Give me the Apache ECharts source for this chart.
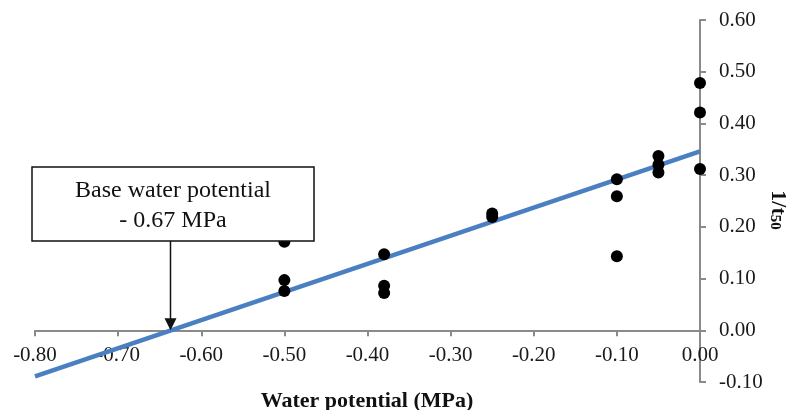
<!DOCTYPE html>
<html>
<head>
<meta charset="utf-8">
<script src="https://cdn.jsdelivr.net/npm/echarts@6/dist/echarts.min.js"></script>
<style>
  html, body { margin: 0; padding: 0; background: #fff; }
  #main { width: 793px; height: 410px; }
</style>
</head>
<body>
<div id="main"></div>
<script>
// observed points: water potential (MPa) and germination rate 1/t50
var waterPotential = [-0.50, -0.50, -0.50, -0.38, -0.38, -0.38, -0.25, -0.25,
                      -0.10, -0.10, -0.10, -0.05, -0.05, -0.05, 0.00, 0.00, 0.00];
var rate = [0.171, 0.097, 0.076, 0.147, 0.086, 0.072, 0.226, 0.219,
            0.292, 0.259, 0.143, 0.337, 0.320, 0.305, 0.478, 0.421, 0.312];

// fitted line end points
var fitX = [-0.80, 0.00];
var fitY = [-0.089, 0.346];
var xIntercept = -0.637;

var xTicks = { min: -0.8, max: 0, step: 0.1 };
var yTicks = { min: -0.1, max: 0.6, step: 0.1 };

var annotationLines = ['Base water potential', '- 0.67 MPa'];
var xTitle = 'Water potential (MPa)';

document.addEventListener('DOMContentLoaded', function() {
    var chartDom = document.getElementById('main');
    var myChart = echarts.init(chartDom, null, { renderer: 'canvas' });
    var serif = '"Liberation Serif", "Times New Roman", serif';
    var axisGray = '#8a8a8a';

    var grid = { left: 35, right: 93, top: 20, bottom: 28 };
    var gridH = 410 - grid.top - grid.bottom;
    // x axis sits on y = 0, so lift it off the grid bottom
    var xOffset = -(0 - yTicks.min) / (yTicks.max - yTicks.min) * gridH;

    var points = waterPotential.map(function(x, i) { return [x, rate[i]]; });
    var fit = fitX.map(function(x, i) { return [x, fitY[i]]; });

    var option = {
        animation: false,
        backgroundColor: '#fff',
        grid: grid,
        xAxis: {
            type: 'value',
            position: 'bottom',
            offset: xOffset,
            min: xTicks.min,
            max: xTicks.max,
            interval: xTicks.step,
            axisLine: { onZero: false, lineStyle: { color: axisGray, width: 2 } },
            axisTick: { show: true, length: 6, lineStyle: { color: axisGray, width: 2 } },
            axisLabel: {
                margin: 15,
                fontFamily: serif,
                fontSize: 21,
                color: '#1a1a1a',
                showMinLabel: true,
                showMaxLabel: true,
                formatter: function(v) { return v.toFixed(2); }
            },
            splitLine: { show: false }
        },
        yAxis: {
            type: 'value',
            position: 'right',
            min: yTicks.min,
            max: yTicks.max,
            interval: yTicks.step,
            axisLine: { show: true, onZero: false, lineStyle: { color: axisGray, width: 2 } },
            axisTick: { show: true, length: 6, lineStyle: { color: axisGray, width: 2 } },
            axisLabel: {
                margin: 19,
                fontFamily: serif,
                fontSize: 21,
                color: '#1a1a1a',
                showMinLabel: true,
                showMaxLabel: true,
                formatter: function(v) { return v.toFixed(2); }
            },
            splitLine: { show: false }
        },
        series: [
            {
                name: 'data',
                type: 'scatter',
                data: points,
                symbol: 'circle',
                symbolSize: 12,
                itemStyle: { color: '#000', opacity: 1 },
                z: 3
            },
            {
                name: 'fit',
                type: 'line',
                data: fit,
                showSymbol: false,
                lineStyle: { color: '#4a7fc1', width: 4.5 },
                z: 2
            }
        ]
    };

    myChart.setOption(option);

    // annotation box + arrow pointing at the x intercept of the fit
    var tip = myChart.convertToPixel({ gridIndex: 0 }, [xIntercept, 0]);
    var box = { x: 32, y: 167, w: 282, h: 74 };

    myChart.setOption({
        graphic: [
            {
                type: 'rect',
                z: 100,
                shape: { x: box.x, y: box.y, width: box.w, height: box.h },
                style: { fill: '#fff', stroke: '#111', lineWidth: 1.5 }
            },
            {
                type: 'text',
                z: 101,
                x: box.x + box.w / 2,
                y: box.y + box.h / 2 + 2,
                style: {
                    text: annotationLines.join('\n'),
                    fontFamily: serif,
                    fontSize: 24,
                    lineHeight: 30,
                    fill: '#111',
                    align: 'center',
                    verticalAlign: 'middle'
                }
            },
            {
                type: 'line',
                z: 101,
                shape: { x1: tip[0], y1: box.y + box.h, x2: tip[0], y2: tip[1] - 10 },
                style: { stroke: '#111', lineWidth: 1.5 }
            },
            {
                type: 'polygon',
                z: 101,
                shape: { points: [[tip[0] - 6, tip[1] - 12], [tip[0] + 6, tip[1] - 12], [tip[0], tip[1]]] },
                style: { fill: '#111' }
            },
            {
                type: 'text',
                z: 101,
                x: 367,
                y: 401,
                style: {
                    text: xTitle,
                    fontFamily: serif,
                    fontSize: 22,
                    fontWeight: 'bold',
                    fill: '#111',
                    align: 'center',
                    verticalAlign: 'middle'
                }
            },
            {
                type: 'text',
                z: 101,
                x: 779,
                y: 210,
                rotation: -Math.PI / 2,
                style: {
                    text: '{a|1/t}{b|50}',
                    align: 'center',
                    verticalAlign: 'middle',
                    rich: {
                        a: { fontFamily: serif, fontSize: 22, fontWeight: 'bold', fill: '#111', lineHeight: 24, verticalAlign: 'bottom' },
                        b: { fontFamily: serif, fontSize: 15, fontWeight: 'bold', fill: '#111', lineHeight: 14, verticalAlign: 'bottom', padding: [10, 0, 0, 0] }
                    }
                }
            }
        ]
    });
});
</script>
</body>
</html>
